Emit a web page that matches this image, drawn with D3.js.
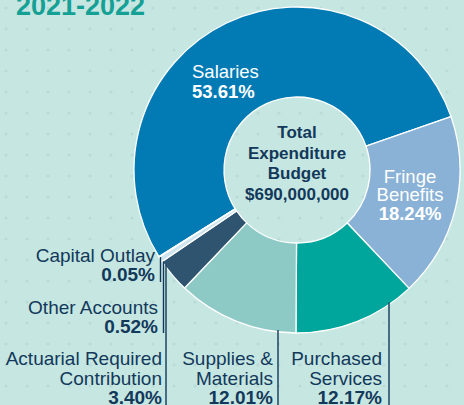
<!DOCTYPE html>
<html><head><meta charset="utf-8">
<script src="https://cdn.jsdelivr.net/npm/d3@7"></script>
<style>html,body{margin:0;padding:0;background:#c6e6e2;}svg{display:block;}</style>
</head><body><svg id="c" width="464" height="405"></svg>
<script>
const categories = ["Salaries","Fringe Benefits","Purchased Services","Supplies & Materials","Actuarial Required Contribution","Other Accounts","Capital Outlay"];
const values = [53.61, 18.24, 12.17, 12.01, 3.40, 0.52, 0.05];
const colors = ["#027bb5","#8ab2d6","#00a59c","#8dcac6","#2e5470","#cfe5ee","#eef7f8"];
const title = "2021-2022";
const centerLines = ["Total","Expenditure","Budget","$690,000,000"];

const W=464,H=405, cx=297, cy=170, R=163, r=73;
const dark="#12395a", font="'Liberation Sans', Arial, Helvetica, sans-serif";
const svg=d3.select("#c");

// background with faint dots
const defs=svg.append("defs");
const pat=defs.append("pattern").attr("id","dots").attr("width",21).attr("height",21).attr("patternUnits","userSpaceOnUse");
pat.append("circle").attr("cx",6).attr("cy",8).attr("r",1.6).attr("fill","#b4d8d4").attr("opacity",0.8);
svg.append("rect").attr("width",W).attr("height",H).attr("fill","#c6e6e2");
svg.append("rect").attr("width",W).attr("height",H).attr("fill","url(#dots)");

svg.append("text").attr("x",16).attr("y",15).attr("font-family",font).attr("font-weight","bold")
  .attr("font-size",27).attr("fill","#15a096").text(title);

const start=-122.1*Math.PI/180;
const pie=d3.pie().sort(null).startAngle(start).endAngle(start+2*Math.PI);
const arcs=pie(values);
const arc=d3.arc().innerRadius(r).outerRadius(R);
const g=svg.append("g").attr("transform",`translate(${cx},${cy})`);
g.selectAll("path").data(arcs).join("path").attr("d",arc)
  .attr("fill",(d,i)=>colors[i]).attr("stroke","#ffffff").attr("stroke-width",1.3);

// center text
svg.append("g").selectAll("text").data(centerLines).join("text")
  .attr("x",cx).attr("y",(d,i)=>138+i*20.5).attr("text-anchor","middle")
  .attr("font-family",font).attr("font-weight","bold").attr("font-size",17).attr("fill",dark).text(d=>d);

function pct(v){return v.toFixed(2)+"%";}
// inside labels
function inLabel(x,y,lines,pctv,anchor){
  const t=svg.append("text").attr("font-family",font).attr("fill","#ffffff").attr("text-anchor",anchor).attr("font-size",18.5);
  lines.forEach((l,i)=>t.append("tspan").attr("x",x).attr("y",y+i*17.5).text(l));
  t.append("tspan").attr("x",x).attr("y",y+lines.length*17.5+2).attr("font-weight","bold").text(pctv);
}
inLabel(192,78,["Salaries"],pct(values[0]),"start");
inLabel(410,183,["Fringe","Benefits"],pct(values[1]),"middle");

// outside labels with vertical leader lines
const outside=[
  {i:2, lx:389, yEnd:H, tx:382, ty:365, lines:["Purchased","Services"]},
  {i:3, lx:278, yEnd:H, tx:273, ty:365, lines:["Supplies &","Materials"]},
  {i:4, lx:166, yEnd:H, tx:162, ty:365, lines:["Actuarial Required","Contribution"]},
  {i:5, lx:163.5, yEnd:333, tx:158, ty:314, lines:["Other Accounts"]},
  {i:6, lx:160.5, yEnd:282, tx:155, ty:262, lines:["Capital Outlay"]}
];
outside.forEach(o=>{
  const dx=o.lx-cx;
  const y0=cy+Math.sqrt(R*R-dx*dx)-2;
  svg.append("line").attr("x1",o.lx).attr("x2",o.lx).attr("y1",y0).attr("y2",o.yEnd)
    .attr("stroke",dark).attr("stroke-width",1.4);
  const t=svg.append("text").attr("font-family",font).attr("fill",dark).attr("text-anchor","end").attr("font-size",19);
  o.lines.forEach((l,k)=>t.append("tspan").attr("x",o.tx).attr("y",o.ty+k*19.5).text(l));
  t.append("tspan").attr("x",o.tx).attr("y",o.ty+o.lines.length*19.5-0.5).attr("font-weight","bold").text(pct(values[o.i]));
});
</script></body></html>
